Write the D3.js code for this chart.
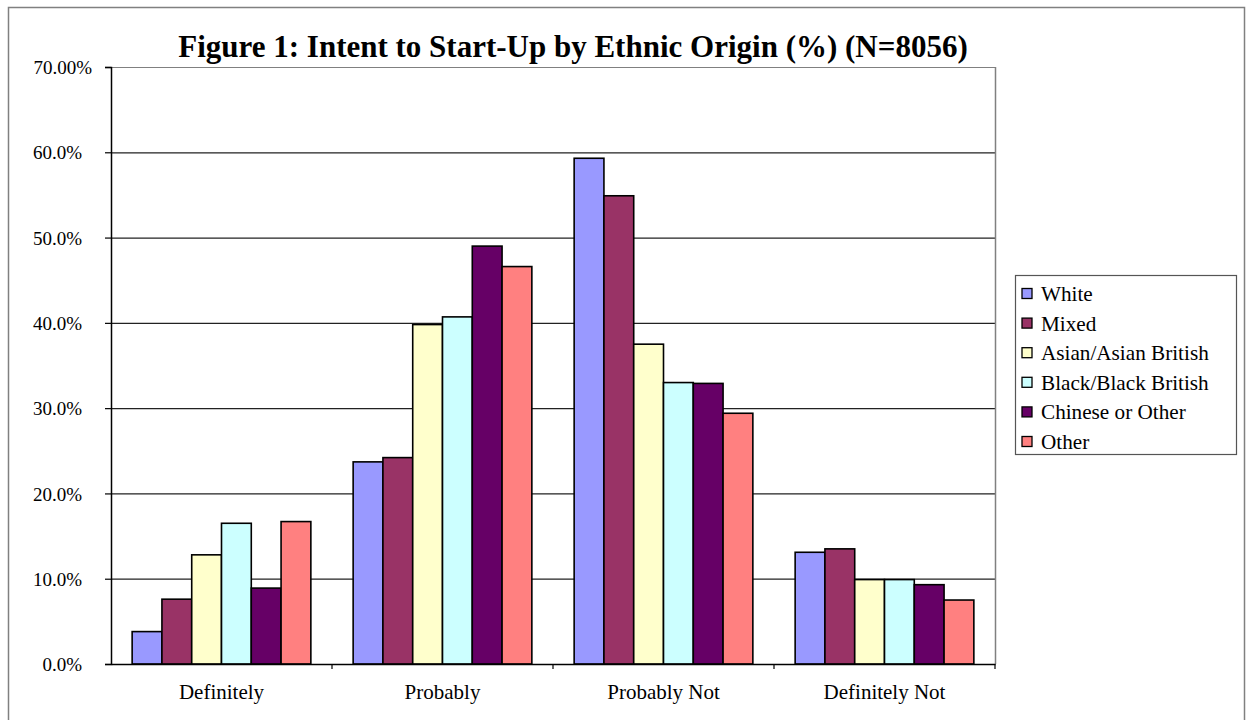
<!DOCTYPE html>
<html>
  <head>
    <meta charset="UTF-8" />
    <script src="https://d3js.org/d3.v7.min.js"></script>
    <title>Intent to Start-Up</title>
    <style>
      body { margin: 0; background: #fff; }
      text { font-family: "Liberation Serif", "Times New Roman", serif; fill: #000; }
    </style>
  </head>
  <body>
    <svg id="chart" width="1250" height="720"></svg>
    <script>
      // data (percent)
      var categories = ["Definitely", "Probably", "Probably Not", "Definitely Not"];
      var series = ["White", "Mixed", "Asian/Asian British", "Black/Black British", "Chinese or Other", "Other"];
      var colors = ["#9999ff", "#993366", "#ffffcc", "#ccffff", "#660066", "#ff8080"];
      var white   = [3.8, 23.7, 59.3, 13.1];
      var mixed   = [7.6, 24.2, 54.9, 13.5];
      var asian   = [12.8, 39.8, 37.5, 9.9];
      var black   = [16.5, 40.7, 33.0, 9.9];
      var chinese = [8.9, 49.0, 32.9, 9.3];
      var other   = [16.7, 46.6, 29.4, 7.5];
      var yTicks = [0, 10, 20, 30, 40, 50, 60, 70];
      var yTickLabels = ["0.0%", "10.0%", "20.0%", "30.0%", "40.0%", "50.0%", "60.0%", "70.00%"];

      var values = [white, mixed, asian, black, chinese, other];

      var svg = d3.select("#chart");

      // outer frame
      svg.append("rect")
        .attr("x", 8.5).attr("y", 7.5)
        .attr("width", 1236).attr("height", 730)
        .attr("fill", "none")
        .attr("stroke", "#808080")
        .attr("stroke-width", 1.5);

      var plotLeft = 111, plotRight = 995, plotTop = 67, plotBottom = 664;

      var x0 = d3.scaleBand().domain(categories).range([plotLeft, plotRight]);
      var x1 = d3.scaleBand().domain(series).range([0, x0.bandwidth()]).paddingOuter(0.71);
      var y = d3.scaleLinear().domain([0, 70]).range([plotBottom, plotTop]);

      // gridlines
      svg.append("g")
        .selectAll("line")
        .data(yTicks.slice(1))
        .enter().append("line")
        .attr("x1", plotLeft).attr("x2", plotRight)
        .attr("y1", d => y(d) + 0.5).attr("y2", d => y(d) + 0.5)
        .attr("stroke", d => d === 70 ? "#808080" : "#222")
        .attr("stroke-width", 1.2);

      // plot area right border
      svg.append("line")
        .attr("x1", plotRight + 0.5).attr("x2", plotRight + 0.5)
        .attr("y1", plotTop).attr("y2", plotBottom)
        .attr("stroke", "#808080").attr("stroke-width", 1.5);

      // bars
      var groups = svg.append("g")
        .selectAll("g")
        .data(series)
        .enter().append("g")
        .attr("fill", (d, i) => colors[i]);

      groups.selectAll("rect")
        .data((s, i) => categories.map((c, j) => ({ cat: c, s: s, v: values[i][j] })))
        .enter().append("rect")
        .attr("x", d => x0(d.cat) + x1(d.s))
        .attr("width", x1.bandwidth())
        .attr("y", d => y(d.v))
        .attr("height", d => y(0) - y(d.v))
        .attr("stroke", "#000")
        .attr("stroke-width", 1.6);

      // y axis
      var yAxis = svg.append("g")
        .attr("transform", "translate(" + plotLeft + ",0)")
        .call(d3.axisLeft(y).tickValues(yTicks).tickSize(6).tickFormat((d, i) => yTickLabels[i]));
      yAxis.select(".domain").attr("stroke", "#000").attr("stroke-width", 1.5);
      yAxis.selectAll(".tick line").attr("stroke", "#000").attr("stroke-width", 1.2);
      yAxis.selectAll(".tick text")
        .style("font-size", "19px")
        .style("font-family", "'Liberation Serif', serif")
        .attr("x", (d, i) => i === yTicks.length - 1 ? -19 : -29)
        .attr("dy", "0.35em");

      // x axis
      var xAxis = svg.append("g")
        .attr("transform", "translate(0," + plotBottom + ")")
        .call(d3.axisBottom(x0).tickSize(0).tickPadding(0));
      xAxis.select(".domain").attr("stroke", "#000").attr("stroke-width", 1.5);
      xAxis.selectAll(".tick text")
        .style("font-size", "21px")
        .style("font-family", "'Liberation Serif', serif")
        .attr("y", 35)
        .attr("dy", 0);
      // category boundary ticks
      xAxis.append("g")
        .selectAll("line")
        .data(categories.slice(1).concat(["end"]))
        .enter().append("line")
        .attr("x1", d => d === "end" ? plotRight : x0(d))
        .attr("x2", d => d === "end" ? plotRight : x0(d))
        .attr("y1", 0).attr("y2", 5)
        .attr("stroke", "#000").attr("stroke-width", 1.2);

      // title
      svg.append("text")
        .attr("x", 573).attr("y", 57)
        .attr("text-anchor", "middle")
        .attr("font-size", 31)
        .attr("font-weight", "bold")
        .text("Figure 1: Intent to Start-Up by Ethnic Origin (%) (N=8056)");

      // legend
      var legend = svg.append("g").attr("transform", "translate(1015,275)");
      legend.append("rect")
        .attr("x", 0.5).attr("y", 0.5)
        .attr("width", 221).attr("height", 179)
        .attr("fill", "#fff")
        .attr("stroke", "#555").attr("stroke-width", 1.2);
      var items = legend.selectAll(".item")
        .data(series)
        .enter().append("g")
        .attr("class", "item")
        .attr("transform", (d, i) => "translate(7," + (18.5 + i * 29.6) + ")");
      items.append("rect")
        .attr("x", 0).attr("y", -5)
        .attr("width", 10).attr("height", 10)
        .attr("fill", (d, i) => colors[i])
        .attr("stroke", "#000").attr("stroke-width", 1.3);
      items.append("text")
        .attr("x", 19).attr("y", 0)
        .attr("dy", "0.35em")
        .attr("font-size", 21.2)
        .text(d => d);
    </script>
  </body>
</html>
